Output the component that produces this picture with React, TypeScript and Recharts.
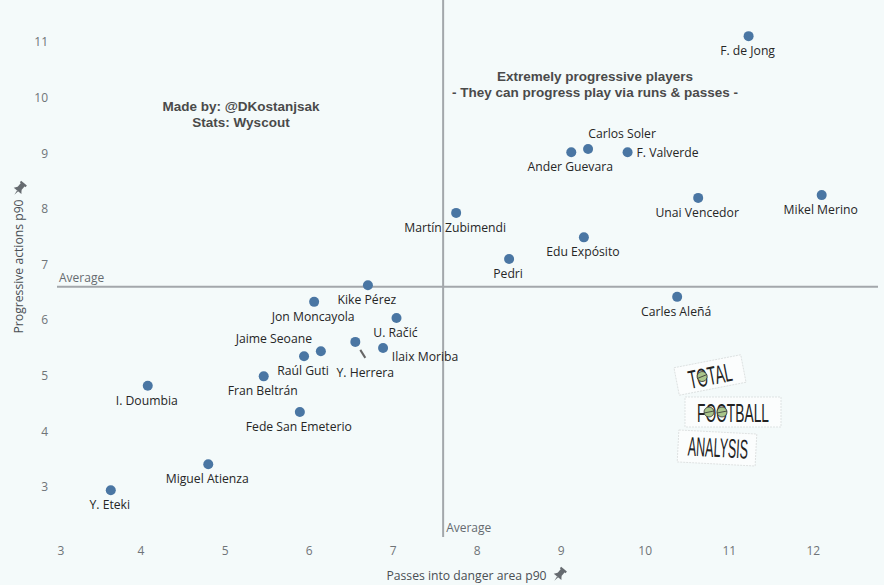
import React from "react";
import { ScatterChart, Scatter, XAxis, YAxis, ReferenceLine, Customized, Label } from "recharts";

const players = ["F. de Jong", "Carlos Soler", "Ander Guevara", "F. Valverde", "Unai Vencedor", "Mikel Merino", "Martín Zubimendi", "Edu Expósito", "Pedri", "Kike Pérez", "Carles Aleñá", "Jon Moncayola", "U. Račić", "Y. Herrera", "Ilaix Moriba", "Jaime Seoane", "Raúl Guti", "Fran Beltrán", "I. Doumbia", "Fede San Emeterio", "Miguel Atienza", "Y. Eteki"];
const passesDanger = [11.23, 9.32, 9.12, 9.79, 10.63, 12.1, 7.75, 9.27, 8.38, 6.7, 10.38, 6.06, 7.04, 6.55, 6.88, 6.14, 5.94, 5.46, 4.08, 5.89, 4.8, 3.64];
const progressive = [11.09, 9.06, 9.0, 9.0, 8.18, 8.23, 7.91, 7.47, 7.08, 6.61, 6.4, 6.31, 6.02, 5.59, 5.48, 5.42, 5.33, 4.97, 4.8, 4.33, 3.39, 2.92];
const xTicks = [3, 4, 5, 6, 7, 8, 9, 10, 11, 12];
const yTicks = [3, 4, 5, 6, 7, 8, 9, 10, 11];
const avgX = 7.595;
const avgY = 6.58;

const data = players.map((name, i) => ({ name, x: passesDanger[i], y: progressive[i] }));

// label nudges that differ from the default "centred under the dot"
const labelNudge: Record<string, [number, number]> = {
  "Carlos Soler": [34, -15],
  "F. Valverde": [40, 1],
  "Y. Herrera": [10, 31],
  "Ilaix Moriba": [42, 9],
  "Jaime Seoane": [-47, -12],
};

const FONT = "'Open Sans', 'Noto Sans', sans-serif";
const BG = "#f4fafa";

function PlayerDot(props: any) {
  const { cx, cy, payload } = props;
  const [dx, dy] = labelNudge[payload.name] || [-1, 15];
  return (
    <g>
      <circle cx={cx} cy={cy} r={5} fill="#4a76a3" />
      {payload.name === "Y. Herrera" && <line x1={cx + 5} y1={cy + 8} x2={cx + 10} y2={cy + 16} stroke="#666" strokeWidth={2} />}
      <text x={cx + dx} y={cy + dy} dy={4} textAnchor="middle" fontSize={12.2} fontFamily={FONT} fill="#262626">{payload.name}</text>
    </g>
  );
}

function XTick({ x, y, payload }: any) {
  return <text x={payload.value === 3 ? x + 4 : x} y={y} dy={4} textAnchor="middle" fontSize={12} fontFamily={FONT} fill="#6f7478">{payload.value}</text>;
}

function Pin({ x, y, rot }: { x: number; y: number; rot: number }) {
  return (
    <g transform={`translate(${x},${y}) rotate(${rot}) scale(1.25)`} fill="#666b70">
      <rect x={-3} y={-5} width={6} height={1.6} />
      <rect x={-2} y={-4} width={4} height={5} />
      <path d="M-4 3 L4 3 L2 0.5 L-2 0.5 Z" />
      <path d="M-0.6 3 L0 7 L0.6 3 Z" />
    </g>
  );
}

function Ball({ x, y, r }: { x: number; y: number; r: number }) {
  return (
    <g>
      <circle cx={x} cy={y} r={r} fill="#a9c58b" stroke="#333" strokeWidth={0.8} />
      <line x1={x - r} y1={y + 1} x2={x + r} y2={y - 1} stroke="#333" strokeWidth={0.8} />
    </g>
  );
}

function Logo() {
  const box = { fill: "#fbfdfd", stroke: "#d3d7d7", strokeWidth: 0.7, strokeDasharray: "2 1" };
  const txt = { fontFamily: "'Liberation Sans Narrow', 'Liberation Sans', sans-serif", fill: "#222", lengthAdjust: "spacingAndGlyphs" as const, textAnchor: "start" as const };
  return (
    <g>
      <g transform="rotate(-11 710 375)">
        <rect x={676} y={361} width={68} height={28} {...box} />
        <text x={688} y={385} fontSize={26} textLength={44} {...txt}>TOTAL</text>
        <Ball x={702} y={375} r={5} />
      </g>
      <rect x={685} y={397} width={96} height={30} {...box} />
      <text x={697} y={422} fontSize={26} textLength={72} {...txt}>FOOTBALL</text>
      <Ball x={709} y={412} r={5} />
      <Ball x={722} y={412} r={5} />
      <g transform="rotate(3 717 448)">
        <rect x={678} y={432} width={78} height={32} {...box} />
        <text x={688} y={457} fontSize={27} textLength={60} {...txt}>ANALYSIS</text>
      </g>
    </g>
  );
}

function Notes() {
  const style = { fontFamily: "'Liberation Sans', sans-serif", fontSize: 13.5, fontWeight: 700, fill: "#4a4a4a", textAnchor: "middle" as const };
  return (
    <g>
      <text x={241} y={111} {...style}>Made by: @DKostanjsak</text>
      <text x={241} y={127} {...style}>Stats: Wyscout</text>
      <text x={595} y={81} {...style}>Extremely progressive players</text>
      <text x={595} y={97} {...style}>- They can progress play via runs &amp; passes -</text>
      <Pin x={560} y={574} rot={40} />
      <Pin x={20} y={188} rot={40} />
      <Logo />
    </g>
  );
}

export default function App() {
  return (
    <div style={{ position: "absolute", left: 0, top: 0, width: 884, height: 585, background: BG }}>
      <ScatterChart width={884} height={585} margin={{ top: 0, right: 6, bottom: 0, left: 0 }}>
        <XAxis
          type="number"
          dataKey="x"
          domain={[3, 12.77]}
          ticks={xTicks}
          allowDataOverflow
          height={48}
          axisLine={false}
          tickLine={false}
          tick={<XTick />}
          tickMargin={8}
          interval={0}
        >
          <Label value="Passes into danger area p90" position="insideBottom" offset={5} dx={-1} fontSize={12.2} fontFamily={FONT} fill="#4a4f54" />
        </XAxis>
        <YAxis
          type="number"
          dataKey="y"
          domain={[2.08, 11.74]}
          ticks={yTicks}
          allowDataOverflow
          width={57}
          axisLine={false}
          tickLine={false}
          tickMargin={3}
          interval={0}
          tick={{ fill: "#6f7478", fontSize: 12, fontFamily: FONT, dy: 1 }}
        >
          <Label value="Progressive actions p90" angle={-90} position="insideLeft" offset={19} dy={65} fontSize={12.2} fontFamily={FONT} fill="#4a4f54" />
        </YAxis>
        <ReferenceLine x={avgX} stroke="#a3a7ab" strokeWidth={2}>
          <Label value="Average" position="insideBottomLeft" offset={3} dy={-2} fontSize={12} fontFamily={FONT} fill="#666b70" />
        </ReferenceLine>
        <ReferenceLine y={avgY} stroke="#a3a7ab" strokeWidth={2}>
          <Label value="Average" position="insideTopLeft" offset={2} dy={-15} fontSize={12} fontFamily={FONT} fill="#666b70" />
        </ReferenceLine>
        <Scatter data={data} shape={<PlayerDot />} isAnimationActive={false} />
        <Customized component={<Notes />} />
      </ScatterChart>
    </div>
  );
}
